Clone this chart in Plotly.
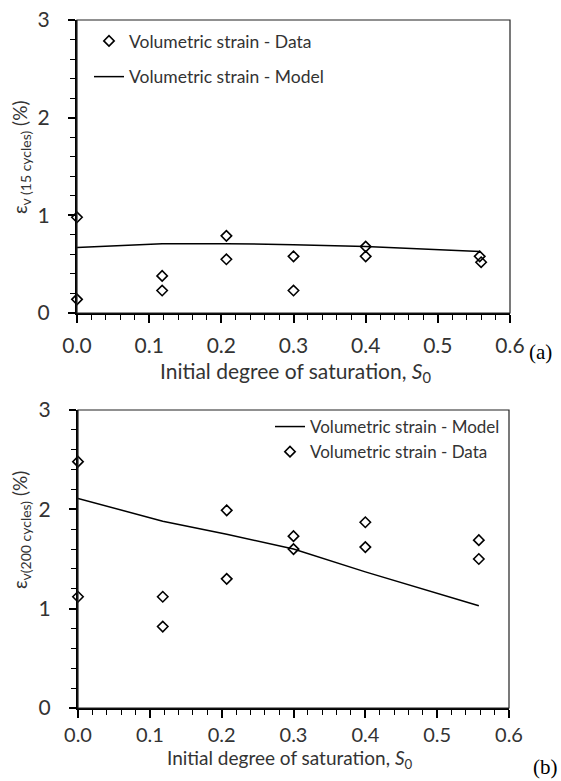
import plotly.graph_objects as go

# ---------------- data ----------------
# (a) 15 cycles
s0_data_a = [0.0, 0.0, 0.118, 0.118, 0.207, 0.207, 0.30, 0.30, 0.40, 0.40, 0.558, 0.560]
ev_data_a = [0.98, 0.14, 0.38, 0.23, 0.79, 0.55, 0.58, 0.23, 0.68, 0.58, 0.58, 0.52]
s0_model_a = [0.0, 0.118, 0.207, 0.30, 0.40, 0.558]
ev_model_a = [0.67, 0.71, 0.71, 0.70, 0.68, 0.63]

# (b) 200 cycles
s0_data_b = [0.0, 0.0, 0.118, 0.118, 0.207, 0.207, 0.30, 0.30, 0.40, 0.40, 0.558, 0.558]
ev_data_b = [2.48, 1.12, 1.12, 0.82, 1.99, 1.30, 1.73, 1.60, 1.87, 1.62, 1.69, 1.50]
s0_model_b = [0.0, 0.118, 0.207, 0.30, 0.40, 0.558]
ev_model_b = [2.11, 1.88, 1.75, 1.60, 1.37, 1.03]

x_ticks = [0.0, 0.1, 0.2, 0.3, 0.4, 0.5, 0.6]
x_ticklabels = ["0.0", "0.1", "0.2", "0.3", "0.4", "0.5", "0.6"]
y_ticks = [0, 1, 2, 3]
y_ticklabels = ["0", "1", "2", "3"]

label_data = "Volumetric strain - Data"
label_model = "Volumetric strain - Model"
xtitle = "Initial degree of saturation, <i>S</i><sub>0</sub>"
ytitle_a = "ε<sub><span style='font-size:14px'>v (15 cycles)</span></sub> (%)"
ytitle_b = "ε<sub><span style='font-size:14px'>v(200 cycles)</span></sub> (%)"

FONT = "Lato"
TXT = "#333333"

fig = go.Figure()

marker_style = dict(symbol="diamond-open", size=8, color="black", line=dict(width=1.6, color="black"))
line_style = dict(color="black", width=1.5)

# top panel
fig.add_trace(go.Scatter(x=s0_data_a, y=ev_data_a, mode="markers", name=label_data,
                         marker=marker_style, xaxis="x", yaxis="y", legend="legend",
                         legendgroup="a1", legendrank=1, cliponaxis=False))
fig.add_trace(go.Scatter(x=s0_model_a, y=ev_model_a, mode="lines", name=label_model,
                         line=line_style, xaxis="x", yaxis="y", legend="legend",
                         legendgroup="a2", legendrank=2, cliponaxis=False))
# bottom panel
fig.add_trace(go.Scatter(x=s0_model_b, y=ev_model_b, mode="lines", name=label_model,
                         line=line_style, xaxis="x2", yaxis="y2", legend="legend2",
                         legendrank=1, cliponaxis=False))
fig.add_trace(go.Scatter(x=s0_data_b, y=ev_data_b, mode="markers", name=label_data,
                         marker=marker_style, xaxis="x2", yaxis="y2", legend="legend2",
                         legendrank=2, cliponaxis=False))

W, H = 561, 781

def xdom(l, r):
    return [l / W, r / W]

def ydom(top, bottom):
    return [1 - bottom / H, 1 - top / H]

xa_common = dict(range=[0, 0.6], tickvals=x_ticks, ticktext=x_ticklabels,
                 ticks="outside", ticklen=8, tickwidth=1.5, tickcolor="black",
                 showline=True, linewidth=2, linecolor="black", showgrid=False, zeroline=False,
                 minor=dict(dtick=0.02, ticks="outside", ticklen=5, tickwidth=1.2, tickcolor="black"),
                 automargin=False)
ya_common = dict(range=[0, 3], tickvals=y_ticks, ticktext=y_ticklabels,
                 ticks="outside", ticklen=7, tickwidth=1.5, tickcolor="black",
                 showline=True, linewidth=2, linecolor="black", showgrid=False, zeroline=False,
                 minor=dict(dtick=0.2, ticks="outside", ticklen=5, tickwidth=1.2, tickcolor="black"),
                 tickfont=dict(family=FONT, size=21, color=TXT), ticklabelstandoff=14,
                 automargin=False)

fig.update_layout(
    width=W, height=H,
    margin=dict(l=0, r=0, t=0, b=0),
    paper_bgcolor="white", plot_bgcolor="white",
    font=dict(family=FONT, color=TXT),
    xaxis=dict(domain=xdom(77, 510), anchor="y", ticklabelstandoff=5,
               tickfont=dict(family=FONT, size=21, color=TXT), **xa_common),
    yaxis=dict(domain=ydom(20, 313), anchor="x", **ya_common),
    xaxis2=dict(domain=xdom(78, 509), anchor="y2", ticklabelstandoff=0,
                tickfont=dict(family=FONT, size=20, color=TXT), **xa_common),
    yaxis2=dict(domain=ydom(410, 708), anchor="x2", **ya_common),
    legend=dict(x=89 / W, y=1 - 23 / H, xanchor="left", yanchor="top",
                bgcolor="rgba(0,0,0,0)", borderwidth=0, itemwidth=30,
                tracegroupgap=10, traceorder="grouped",
                font=dict(family=FONT, size=17.5, color=TXT)),
    legend2=dict(x=505 / W, y=1 - 409 / H, xanchor="right", yanchor="top",
                 bgcolor="rgba(0,0,0,0)", borderwidth=0, itemwidth=30,
                 tracegroupgap=0,
                 font=dict(family=FONT, size=17, color=TXT)),
    showlegend=True,
)

# thin frame (top / right borders)
for xr, yr in (("x domain", "y domain"), ("x2 domain", "y2 domain")):
    fig.add_shape(type="rect", xref=xr, yref=yr, x0=0, x1=1, y0=0, y1=1,
                  line=dict(color="#222222", width=1.2), layer="above")

# x-axis titles
fig.add_annotation(text=xtitle, xref="paper", yref="paper", x=296 / W, y=1 - 372 / H,
                   xanchor="center", yanchor="middle", showarrow=False,
                   font=dict(family=FONT, size=21, color=TXT))
fig.add_annotation(text=xtitle, xref="paper", yref="paper", x=290 / W, y=1 - 759 / H,
                   xanchor="center", yanchor="middle", showarrow=False,
                   font=dict(family=FONT, size=19, color=TXT))

# y-axis titles
fig.add_annotation(text=ytitle_a, textangle=-90, xref="paper", yref="paper",
                   x=21 / W, y=1 - 157 / H, xanchor="center", yanchor="middle", showarrow=False,
                   font=dict(family=FONT, size=19, color=TXT))
fig.add_annotation(text=ytitle_b, textangle=-90, xref="paper", yref="paper",
                   x=21 / W, y=1 - 530 / H, xanchor="center", yanchor="middle", showarrow=False,
                   font=dict(family=FONT, size=19, color=TXT))

# panel labels
fig.add_annotation(text="(a)", xref="paper", yref="paper", x=540 / W, y=1 - 352 / H,
                   xanchor="center", yanchor="middle",
                   showarrow=False, font=dict(family="Liberation Serif", size=21, color="black"))
fig.add_annotation(text="(b)", xref="paper", yref="paper", x=545 / W, y=1 - 767 / H,
                   xanchor="center", yanchor="middle",
                   showarrow=False, font=dict(family="Liberation Serif", size=21, color="black"))

fig.write_html("out.html")
